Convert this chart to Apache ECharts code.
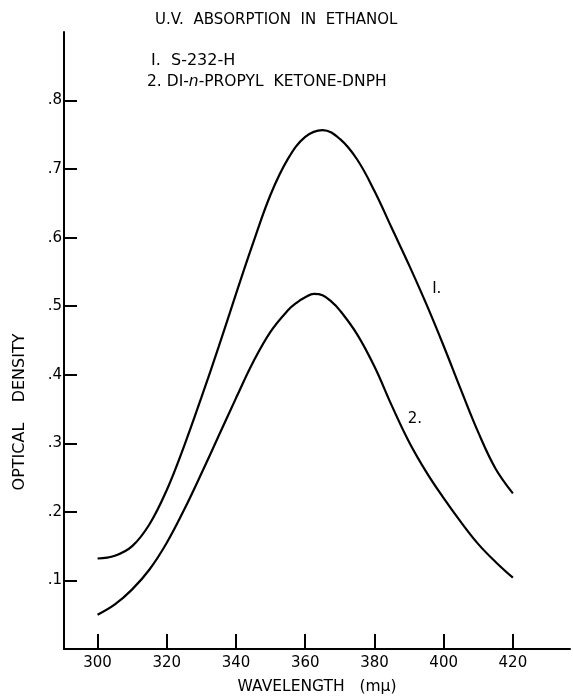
<!DOCTYPE html>
<html>
<head>
<meta charset="utf-8">
<script src="https://cdn.jsdelivr.net/npm/echarts@6/dist/echarts.min.js"></script>
<style>
  html, body { margin: 0; padding: 0; background: #fff; }
  #chart { width: 573px; height: 700px; }
</style>
</head>
<body>
<div id="chart"></div>
<script>
"use strict";
// wavelength (mu) / optical density
var xs1 = [300, 305, 310, 315, 320, 325, 330, 335, 340, 345, 350, 355, 360, 365, 370, 375, 380, 385, 390, 395, 400, 405, 410, 415, 420];
var ys1 = [.132, .136, .150, .182, .232, .296, .367, .441, .518, .593, .663, .715, .747, .757, .744, .714, .668, .614, .560, .503, .442, .378, .316, .263, .227];

var xs2 = [300, 305, 310, 315, 320, 325, 330, 335, 340, 345, 350, 355, 357.5, 360, 362.5, 365, 367.5, 370, 375, 380, 385, 390, 395, 400, 405, 410, 415, 420];
var ys2 = [.050, .065, .087, .116, .155, .203, .256, .311, .366, .419, .463, .494, .505, .513, .518, .516, .507, .494, .459, .412, .355, .302, .258, .220, .185, .153, .127, .104];

var xTicks = [300, 320, 340, 360, 380, 400, 420];
var yTicks = [0.1, 0.2, 0.3, 0.4, 0.5, 0.6, 0.7, 0.8];
var yTickLabels = ['.1', '.2', '.3', '.4', '.5', '.6', '.7', '.8'];

var seriesNames = ['I.  S-232-H', '2. DI-n-PROPYL KETONE-DNPH'];
var curveLabels = ['I.', '2.'];
var curveLabelAt = [[398, 0.525], [391.7, 0.336]];

function pairs(xs, ys) {
    return xs.map(function (x, i) { return [x, ys[i]]; });
}

var font = 'DejaVu Sans';
var chart = echarts.init(document.getElementById('chart'));

function curve(name, xs, ys, idx) {
    return {
        name: name,
        type: 'line',
        smooth: 0.4,
        showSymbol: false,
        symbol: 'none',
        lineStyle: { color: '#000', width: 2.2 },
        data: pairs(xs, ys),
        markPoint: {
            symbol: 'circle',
            symbolSize: 0,
            label: {
                show: true, position: 'inside', color: '#000',
                fontFamily: font, fontSize: 15,
                formatter: curveLabels[idx]
            },
            data: [{ coord: curveLabelAt[idx] }]
        }
    };
}

var option = {
    animation: false,
    backgroundColor: '#fff',
    grid: { left: 64, right: 3, top: 32, bottom: 45 },
    xAxis: {
        type: 'value',
        min: 290.3,
        max: 436.5,
        name: 'WAVELENGTH   (mμ)',
        nameLocation: 'middle',
        nameGap: 30,
        nameTextStyle: { color: '#000', fontFamily: font, fontSize: 15.5 },
        axisLine: { lineStyle: { color: '#000', width: 2 } },
        axisTick: { inside: true, length: 15, customValues: xTicks, lineStyle: { color: '#000', width: 2 } },
        axisLabel: { customValues: xTicks, color: '#000', fontFamily: font, fontSize: 15, margin: 7 },
        splitLine: { show: false }
    },
    yAxis: {
        type: 'value',
        min: 0,
        max: 0.9,
        axisLine: { lineStyle: { color: '#000', width: 2 } },
        axisTick: { inside: true, length: 13, customValues: yTicks, lineStyle: { color: '#000', width: 2 } },
        axisLabel: {
            customValues: yTicks, color: '#000', fontFamily: font, fontSize: 15, margin: 2,
            formatter: function (v) {
                var i = yTicks.findIndex(function (t) { return Math.abs(t - v) < 1e-6; });
                return i >= 0 ? yTickLabels[i] : '';
            }
        },
        splitLine: { show: false }
    },
    graphic: [
        {
            type: 'text', left: 155, top: 13,
            style: { text: 'U.V.  ABSORPTION  IN  ETHANOL', fill: '#000', font: '15px "' + font + '"' }
        },
        {
            type: 'text', left: 151, top: 53,
            style: { text: seriesNames[0], fill: '#000', font: '16px "' + font + '"' }
        },
        {
            type: 'text', left: 147, top: 74,
            style: {
                text: '{a|2. DI-}{b|n}{a|-PROPYL  KETONE-DNPH}',
                rich: {
                    a: { fill: '#000', fontFamily: font, fontSize: 15.5 },
                    b: { fill: '#000', fontFamily: font, fontSize: 15.5, fontStyle: 'italic' }
                }
            }
        },
        {
            type: 'text', x: 20, y: 412, rotation: Math.PI / 2,
            style: {
                text: 'OPTICAL    DENSITY', fill: '#000',
                font: '16px "' + font + '"', align: 'center', verticalAlign: 'middle'
            }
        }
    ],
    series: [
        curve(seriesNames[0], xs1, ys1, 0),
        curve(seriesNames[1], xs2, ys2, 1)
    ]
};
chart.setOption(option);
</script>
</body>
</html>
